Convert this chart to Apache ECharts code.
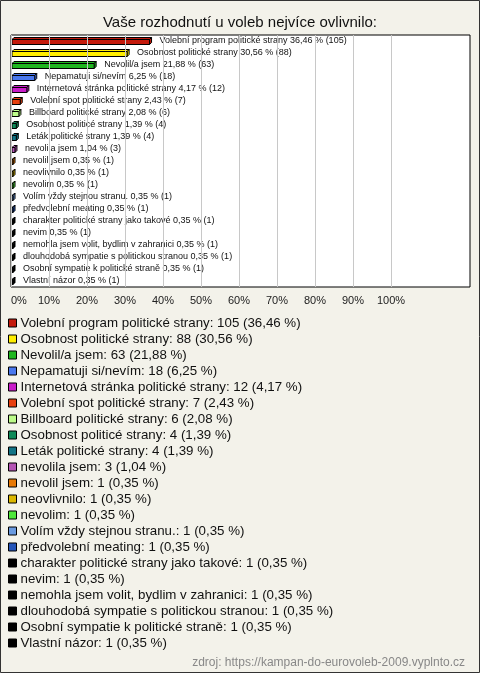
<!DOCTYPE html>
<html><head><meta charset="utf-8">
<script src="https://cdn.jsdelivr.net/npm/echarts@6/dist/echarts.min.js"></script>
<style>html,body{margin:0;padding:0;background:#f3f2ea;}#c{width:480px;height:673px;}</style>
</head><body><div id="c"></div>
<script>
const categories = [
  "Volební program politické strany","Osobnost politické strany","Nevolil/a jsem","Nepamatuji si/nevím",
  "Internetová stránka politické strany","Volební spot politické strany","Billboard politické strany",
  "Osobnost politicé strany","Leták politické strany","nevolila jsem","nevolil jsem","neovlivnilo","nevolim",
  "Volím vždy stejnou stranu.","předvolební meating","charakter politické strany jako takové","nevim",
  "nemohla jsem volit, bydlim v zahranici","dlouhodobá sympatie s politickou stranou",
  "Osobní sympatie k politické straně","Vlastní názor"
];
const counts = [105,88,63,18,12,7,6,4,4,3,1,1,1,1,1,1,1,1,1,1,1];
const percents = [36.46,30.56,21.88,6.25,4.17,2.43,2.08,1.39,1.39,1.04,0.35,0.35,0.35,0.35,0.35,0.35,0.35,0.35,0.35,0.35,0.35];
const colors = ["#c41a0c","#ffee00","#1fb61f","#4a78ee","#c81cc8","#e8400f","#bdfb8a","#0f8a58","#127486","#b455b4",
  "#e87a06","#dcb800","#4fe83a","#6a9ae0","#2454b8","#000000","#000000","#000000","#000000","#000000","#000000"];
const tickValues = [0,10,20,30,40,50,60,70,80,90,100];

const fmt = v => v.toFixed(2).replace('.', ',');

const chart = echarts.init(document.getElementById('c'), null, {renderer:'canvas'});

function renderItem(params, api){
  const idx = api.value(1);
  const p0 = api.coord([0, idx]);
  const p1 = api.coord([api.value(0), idx]);
  const cy = p1[1];
  const h = 5, d = 2;
  const left = p0[0] + 1, right = Math.max(p1[0], left + 1);
  const top = cy - h/2 + 1;
  const col = colors[idx];
  const st = {fill: col, stroke: '#000', lineWidth: 1};
  return {type:'group', children:[
    {type:'polygon', shape:{points:[[left,top],[left+d,top-d],[right+d,top-d],[right,top]]}, style:st},
    {type:'polygon', shape:{points:[[right,top],[right+d,top-d],[right+d,top-d+h],[right,top+h]]}, style:st},
    {type:'rect', shape:{x:left,y:top,width:right-left,height:h}, style:st},
    {type:'text', style:{x:right+d+8, y:cy, text: categories[idx]+' '+fmt(percents[idx])+' % ('+counts[idx]+')',
      font:'9px "Liberation Sans", Arial, sans-serif', fill:'#111', verticalAlign:'middle', align:'left'}}
  ]};
}

const series = categories.map((name,i)=>({
  name, type:'custom', renderItem, z:3, itemStyle:{color:colors[i]},
  data:[[percents[i], i]], animation:false
}));
series.push({
  name:'__grid', type:'line', data:[], z:1, silent:true,
  markLine:{silent:true, symbol:'none', animation:false, label:{show:false},
    lineStyle:{color:'#c8c8c8', width:1, type:'solid'},
    data: tickValues.map(v=>({xAxis:v}))}
});

chart.setOption({
  backgroundColor:'#f3f2ea',
  animation:false,
  title:[
    {text:'Vaše rozhodnutí u voleb nejvíce ovlivnilo:', left:'center', top:10,
     textStyle:{fontFamily:'"Liberation Sans", Arial, sans-serif', fontSize:15, fontWeight:'normal', color:'#111'}},
    {text:'zdroj: https://kampan-do-eurovoleb-2009.vyplnto.cz', right:10, top:652,
     textStyle:{fontFamily:'"Liberation Sans", Arial, sans-serif', fontSize:12, fontWeight:'normal', color:'#888'}}
  ],
  grid:{left:11, right:10, top:35, height:252, show:true, backgroundColor:'#fff', borderColor:'#000', borderWidth:1, containLabel:false},
  xAxis:{type:'value', min:0, max:120.8, interval:10,
    axisLine:{show:false}, axisTick:{show:false}, splitLine:{show:false},
    axisLabel:{margin:8, fontSize:11, color:'#222', fontFamily:'"Liberation Sans", Arial, sans-serif',
      alignMinLabel:'left', showMaxLabel:false,
      formatter:v=> v<=100 ? v+'%' : ''}},
  yAxis:{type:'category', data:categories, inverse:true, show:false},
  legend:{orient:'vertical', left:8, top:315, padding:0, itemWidth:8, itemHeight:8, itemGap:0, icon:'rect',
    selectedMode:false,
    textStyle:{fontFamily:'"Liberation Sans", Arial, sans-serif', fontSize:13.3, lineHeight:16, color:'#111', padding:[0,0,0,-1]},
    data: categories.map((n,i)=>({name:n, itemStyle:{color:colors[i], borderColor:'#000', borderWidth:1}})),
    formatter: n => { const i = categories.indexOf(n); return n+': '+counts[i]+' ('+fmt(percents[i])+' %)'; }
  },
  graphic:[{type:'rect', shape:{x:0.5,y:0.5,width:479,height:672}, style:{fill:'none', stroke:'#333', lineWidth:1}, silent:true, z:100}],
  series
});
</script></body></html>
